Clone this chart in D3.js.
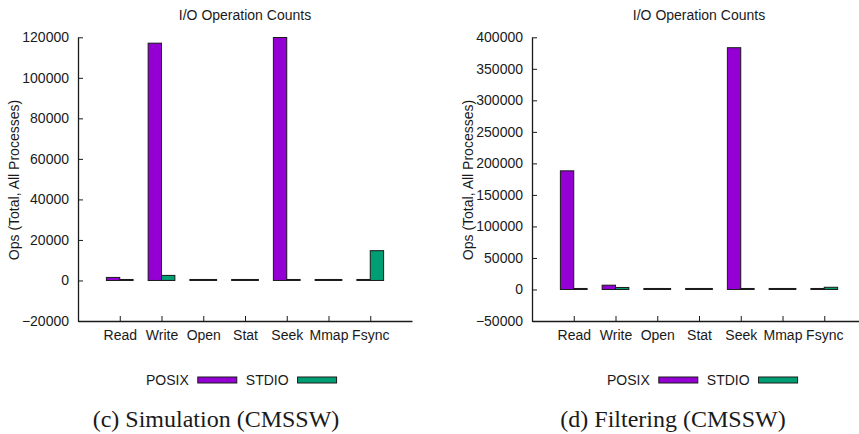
<!DOCTYPE html>
<html>
<head>
<meta charset="utf-8">
<script src="https://cdn.jsdelivr.net/npm/d3@7"></script>
<style>
  body { margin: 0; background: #fff; }
  svg text { font-family: "Liberation Sans", Arial, sans-serif; fill: #1a1a1a; }
  .caption { font-family: "Liberation Serif", "Times New Roman", serif !important; }
</style>
</head>
<body>
<div id="chart"></div>
<script>
// Operation categories on the x axis
const categories = ["Read", "Write", "Open", "Stat", "Seek", "Mmap", "Fsync"];
const seriesNames = ["POSIX", "STDIO"];

// (c) Simulation (CMSSW)
const simPosix = [1500, 117100, 60, 150, 119900, 30, 40];
const simStdio = [60, 2500, 40, 30, 50, 20, 14700];
const simTicks = [-20000, 0, 20000, 40000, 60000, 80000, 100000, 120000];

// (d) Filtering (CMSSW)
const filtPosix = [188200, 6800, 80, 250, 383500, 40, 60];
const filtStdio = [100, 3200, 50, 30, 80, 20, 3500];
const filtTicks = [-50000, 0, 50000, 100000, 150000, 200000, 250000, 300000, 350000, 400000];

const colors = { POSIX: "#9400d3", STDIO: "#009e73" };

const svg = d3.select("#chart")
    .append("svg")
    .attr("width", 859)
    .attr("height", 434);

function drawPanel(opts) {
    const { left, right, posix, stdio, ticks, caption, legendX, captionX } = opts;
    const top = 37.3, bottom = 321;

    const x = d3.scaleLinear().domain([-1, 7]).range([left, right]);
    const y = d3.scaleLinear().domain([ticks[0], ticks[ticks.length - 1]]).range([bottom, top]);

    const g = svg.append("g");

    // Title
    g.append("text")
        .attr("x", (left + right) / 2)
        .attr("y", 20)
        .attr("text-anchor", "middle")
        .style("font-size", "14px")
        .text("I/O Operation Counts");

    // Y label
    g.append("text")
        .attr("transform", `translate(${left - 64}, 180) rotate(-90)`)
        .attr("text-anchor", "middle")
        .attr("dy", "0.35em")
        .style("font-size", "14px")
        .text("Ops (Total, All Processes)");

    // Bars
    const bw = 0.32;
    const rows = categories.map((c, i) => ({ i, POSIX: posix[i], STDIO: stdio[i] }));
    seriesNames.forEach((s, k) => {
        g.append("g").selectAll("rect")
            .data(rows)
            .join("rect")
            .attr("x", d => k === 0 ? x(d.i - bw) : x(d.i))
            .attr("width", x(bw) - x(0))
            .attr("y", d => Math.min(y(d[s]), y(0) - 1))
            .attr("height", d => Math.max(y(0) - y(d[s]), 1))
            .attr("fill", colors[s])
            .attr("stroke", "#1a1a1a")
            .attr("stroke-width", 1);
    });

    // Axes
    const yAxis = g.append("g")
        .attr("transform", `translate(${left},0)`)
        .call(d3.axisLeft(y).tickValues(ticks).tickFormat(d3.format("d"))
            .tickSize(-5).tickSizeOuter(0).tickPadding(9));
    yAxis.selectAll("text").style("font-size", "14px")
        .text(d => d < 0 ? "\u2212" + Math.abs(d) : d);

    const xAxis = g.append("g")
        .attr("transform", `translate(0,${bottom})`)
        .call(d3.axisBottom(x).tickValues(d3.range(categories.length))
            .tickFormat(i => categories[i])
            .tickSize(-5).tickSizeOuter(0).tickPadding(9));
    xAxis.selectAll("text").style("font-size", "14px");

    [yAxis, xAxis].forEach(a => {
        a.select(".domain").attr("stroke", "#1a1a1a").attr("stroke-width", 1.3);
        a.selectAll(".tick line").attr("stroke", "#1a1a1a");
    });

    // Legend
    const legend = g.append("g").attr("transform", `translate(${legendX}, 380)`);
    let cx = 0;
    seriesNames.forEach(s => {
        const t = legend.append("text")
            .attr("x", cx)
            .attr("dy", "0.35em")
            .style("font-size", "14px")
            .text(s);
        cx += t.node().getComputedTextLength() + 9;
        legend.append("rect")
            .attr("x", cx)
            .attr("y", -3)
            .attr("width", 39)
            .attr("height", 6)
            .attr("fill", colors[s])
            .attr("stroke", "#1a1a1a");
        cx += 39 + 9;
    });

    // Caption
    g.append("text")
        .attr("class", "caption")
        .attr("x", captionX)
        .attr("y", 427)
        .attr("text-anchor", "middle")
        .style("font-size", "24px")
        .style("font-family", "'Liberation Serif', 'Times New Roman', serif")
        .text(caption);
}

drawPanel({ left: 78, right: 412, posix: simPosix, stdio: simStdio, ticks: simTicks,
    caption: "(c) Simulation (CMSSW)", legendX: 146, captionX: 216 });
drawPanel({ left: 532, right: 866, posix: filtPosix, stdio: filtStdio, ticks: filtTicks,
    caption: "(d) Filtering (CMSSW)", legendX: 607, captionX: 673 });
</script>
</body>
</html>
